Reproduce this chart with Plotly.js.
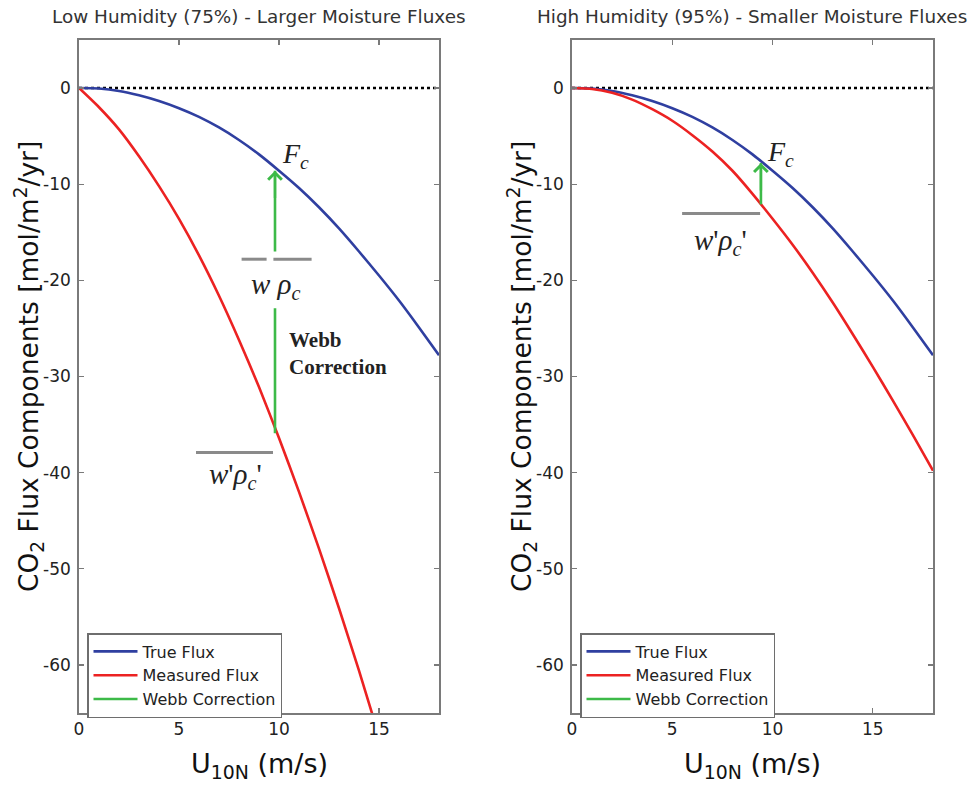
<!DOCTYPE html>
<html>
<head>
<meta charset="utf-8">
<script src="https://cdn.plot.ly/plotly-3.0.1.min.js"></script>
<style>html,body{margin:0;padding:0;background:#fff;}</style>
</head>
<body>
<div id="chart" style="width:969px;height:787px;"></div>
<script>
// ---- data ----
var windSpeed = [0,1,2,3,4,5,6,7,8,9,10,11,12,13,14,15,16,17,18];
var trueFluxLow  = [0,-0.05,-0.3,-0.75,-1.35,-2.1,-3.0,-4.1,-5.4,-6.9,-8.6,-10.4,-12.4,-14.6,-17.0,-19.5,-22.1,-24.9,-27.8];
var measFluxLow  = [0,-2.0,-4.3,-7.1,-10.2,-13.6,-17.4,-21.6,-26.2,-31.1,-36.4,-42.0,-47.9,-54.1,-60.6,-67.4];
var trueFluxHigh = [0,-0.05,-0.3,-0.75,-1.35,-2.1,-3.0,-4.1,-5.4,-6.9,-8.6,-10.4,-12.4,-14.6,-17.0,-19.5,-22.1,-24.9,-27.8];
var measFluxHigh = [0,-0.1,-0.5,-1.2,-2.2,-3.4,-4.9,-6.6,-8.6,-11.0,-13.6,-16.3,-19.2,-22.3,-25.6,-29.0,-32.5,-36.1,-39.8];
var zeroX = [0,18];
var zeroY = [0,0];
// Webb correction arrows
var webbLowX = [9.8,9.8,null,9.8,9.8];
var webbLowY = [-35.9,-22.9,null,-17.0,-8.6];
var webbHighX = [9.42,9.42];
var webbHighY = [-12.1,-7.8];
var yTickVals = [-60,-50,-40,-30,-20,-10,0];
var yTickText = ['-60','-50','-40','-30','-20','-10','0'];
var xTickVals = [0,5,10,15];
var xTickText = ['0','5','10','15'];
var seriesNames = ['True Flux','Measured Flux','Webb Correction'];

var BLUE = '#2f3fa0', RED = '#ec2222', GREEN = '#3dba48';
var LW = 2.6;

function tr(x, y, name, color, xa, ya, legend, show) {
  return {x: x, y: y, name: name, type: 'scatter', mode: 'lines',
    line: {color: color, width: LW, shape: 'spline', smoothing: 0.6},
    xaxis: xa, yaxis: ya, legend: legend, showlegend: show, hoverinfo: 'skip'};
}

var data = [
  {x: zeroX, y: zeroY, mode: 'lines', line: {color: '#000', width: 2.5, dash: 'dot'}, xaxis: 'x', yaxis: 'y', showlegend: false, hoverinfo: 'skip'},
  {x: zeroX, y: zeroY, mode: 'lines', line: {color: '#000', width: 2.5, dash: 'dot'}, xaxis: 'x2', yaxis: 'y2', showlegend: false, hoverinfo: 'skip'},
  tr(windSpeed, trueFluxLow, seriesNames[0], BLUE, 'x', 'y', 'legend', true),
  tr(windSpeed.slice(0, measFluxLow.length), measFluxLow, seriesNames[1], RED, 'x', 'y', 'legend', true),
  {x: webbLowX, y: webbLowY, name: seriesNames[2], mode: 'lines', line: {color: GREEN, width: LW}, xaxis: 'x', yaxis: 'y', legend: 'legend', showlegend: true, connectgaps: false, hoverinfo: 'skip'},
  tr(windSpeed, trueFluxHigh, seriesNames[0], BLUE, 'x2', 'y2', 'legend2', true),
  tr(windSpeed, measFluxHigh, seriesNames[1], RED, 'x2', 'y2', 'legend2', true),
  {x: webbHighX, y: webbHighY, name: seriesNames[2], mode: 'lines', line: {color: GREEN, width: LW}, xaxis: 'x2', yaxis: 'y2', legend: 'legend2', showlegend: true, hoverinfo: 'skip'}
];

var AX = '#7a7a7a';
var TICKFONT = {family: 'DejaVu Sans', size: 17, color: '#222'};
function xax(domain, anchor) {
  return {domain: domain, anchor: anchor, range: [0, 18], tickvals: xTickVals, ticktext: xTickText,
    ticks: 'inside', ticklen: 5, tickwidth: 1.3, tickcolor: AX, showline: true, linecolor: AX, linewidth: 1.7,
    mirror: 'allticks', showgrid: false, zeroline: false, tickfont: TICKFONT, automargin: false, fixedrange: true};
}
function yax(anchor) {
  return {domain: [0.0940, 0.9492], anchor: anchor, range: [-65, 5], tickvals: yTickVals, ticktext: yTickText,
    ticks: 'inside', ticklen: 5, tickwidth: 1.3, tickcolor: AX, showline: true, linecolor: AX, linewidth: 1.7,
    mirror: 'allticks', showgrid: false, zeroline: false, tickfont: TICKFONT, automargin: false, fixedrange: true,
    ticklabelstandoff: 3};
}

var SERIF = 'Liberation Serif, Times New Roman, serif';
var TXT = '#222';
function ann(text, x, y, xref, yref, size, extra) {
  var a = {text: text, x: x, y: y, xref: xref, yref: yref, showarrow: false, xanchor: 'center', yanchor: 'middle',
    font: {family: SERIF, size: size, color: TXT}};
  for (var k in extra) a[k] = extra[k];
  return a;
}
function pann(text, px, py, font, extra) {
  var a = {text: text, x: px/969, y: 1 - py/787, xref: 'paper', yref: 'paper', showarrow: false,
    xanchor: 'center', yanchor: 'middle', font: font};
  for (var k in extra) a[k] = extra[k];
  return a;
}

var titleFont = {family: 'DejaVu Sans', size: 18.4, color: '#333'};
var axTitleFont = {family: 'DejaVu Sans', size: 26.5, color: '#111'};
var xTitleFont = {family: 'DejaVu Sans', size: 27, color: '#111'};
var yTitle = 'CO<sub>2</sub> Flux Components [mol/m<sup>2</sup>/yr]';
var xTitle = 'U<sub>10N</sub> (m/s)';

var annotations = [
  pann('Low Humidity (75%) - Larger Moisture Fluxes', 259, 17, titleFont),
  pann('High Humidity (95%) - Smaller Moisture Fluxes', 752, 17, titleFont),
  pann(yTitle, 29, 367, axTitleFont, {textangle: -90}),
  pann(yTitle, 522, 367, axTitleFont, {textangle: -90}),
  pann(xTitle, 259, 765, xTitleFont),
  pann(xTitle, 752, 765, xTitleFont),
  // left panel labels
  ann('<i>F<sub>c</sub></i>', 10.8, -7.0, 'x', 'y', 28, {}),
  ann('<i>w</i> <i>ρ<sub>c</sub></i>', 9.85, -20.6, 'x', 'y', 29, {}),
  ann('<b>Webb<br>Correction</b>', 10.4, -27.6, 'x', 'y', 21, {xanchor: 'left', align: 'left'}),
  ann('<i>w</i>\'<i>ρ<sub>c</sub></i>\'', 7.8, -40.4, 'x', 'y', 29, {}),
  // right panel labels
  ann('<i>F<sub>c</sub></i>', 10.4, -6.8, 'x2', 'y2', 28, {}),
  ann('<i>w</i>\'<i>ρ<sub>c</sub></i>\'', 7.4, -16.0, 'x2', 'y2', 29, {}),
  // arrow heads
  {x: webbLowX[4], y: webbLowY[4], ax: webbLowX[4], ay: webbLowY[4] - 3, xref: 'x', yref: 'y', axref: 'x', ayref: 'y',
    text: '', showarrow: true, arrowhead: 4, arrowsize: 1.1, arrowwidth: 2.4, arrowcolor: GREEN},
  {x: webbHighX[1], y: webbHighY[1], ax: webbHighX[1], ay: webbHighY[1] - 3, xref: 'x2', yref: 'y2', axref: 'x2', ayref: 'y2',
    text: '', showarrow: true, arrowhead: 4, arrowsize: 1.1, arrowwidth: 2.4, arrowcolor: GREEN}
];

var BAR = {color: '#8a8a8a', width: 3};
var shapes = [
  {type: 'line', xref: 'x', yref: 'y', x0: 8.13, x1: 9.38, y0: -17.8, y1: -17.8, line: BAR},
  {type: 'line', xref: 'x', yref: 'y', x0: 9.72, x1: 11.63, y0: -17.8, y1: -17.8, line: BAR},
  {type: 'line', xref: 'x', yref: 'y', x0: 5.85, x1: 9.7, y0: -37.9, y1: -37.9, line: BAR},
  {type: 'line', xref: 'x2', yref: 'y2', x0: 5.49, x1: 9.38, y0: -13.05, y1: -13.05, line: BAR}
];

var legendStyle = function (x) {
  return {x: x, y: 1 - 633/787, xanchor: 'left', yanchor: 'top', xref: 'paper', yref: 'paper',
    bgcolor: '#fff', bordercolor: '#6e6e6e', borderwidth: 1.5,
    font: {family: 'DejaVu Sans', size: 16, color: '#222'}, tracegroupgap: 0, itemwidth: 44};
};

var layout = {
  width: 969, height: 787,
  margin: {l: 0, r: 0, t: 0, b: 0},
  paper_bgcolor: '#fff', plot_bgcolor: '#fff',
  xaxis: xax([79/969, 439/969], 'y'),
  yaxis: yax('x'),
  xaxis2: xax([572/969, 933/969], 'y2'),
  yaxis2: yax('x2'),
  legend: legendStyle(87/969),
  legend2: legendStyle(580/969),
  annotations: annotations,
  shapes: shapes
};

Plotly.newPlot('chart', data, layout, {displayModeBar: false, staticPlot: true});
</script>
</body>
</html>
